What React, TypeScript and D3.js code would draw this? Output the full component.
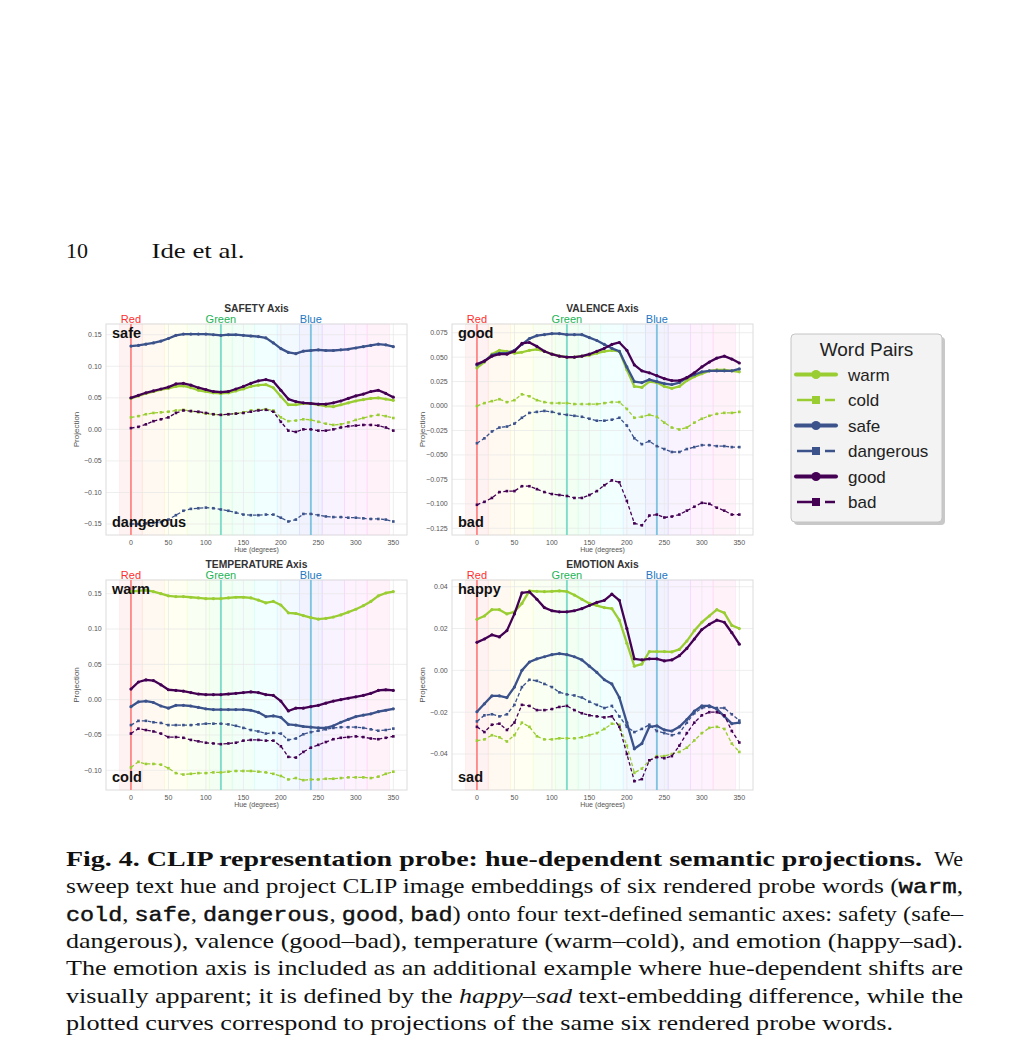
import React from 'react';
import * as d3 from 'd3';

// ---------- data ----------
const hues = [0, 10, 20, 30, 40, 50, 60, 70, 80, 90, 100, 110, 120, 130, 140, 150, 160, 170, 180, 190, 200, 210, 220, 230, 240, 250, 260, 270, 280, 290, 300, 310, 320, 330, 340, 350];
const bandHues = [0, 30, 60, 90, 120, 150, 180, 210, 240, 270, 300, 330];
const xTicks = [0, 50, 100, 150, 200, 250, 300, 350];
const refHues = [0, 120, 240];
const refNames = ['Red', 'Green', 'Blue'];
const wordNames = ['warm', 'cold', 'safe', 'dangerous', 'good', 'bad'];

const safetyWarm = [0.049, 0.053, 0.057, 0.060, 0.063, 0.065, 0.068, 0.069, 0.066, 0.062, 0.060, 0.058, 0.057, 0.058, 0.061, 0.064, 0.068, 0.070, 0.071, 0.066, 0.052, 0.039, 0.039, 0.041, 0.041, 0.039, 0.037, 0.036, 0.039, 0.042, 0.045, 0.047, 0.049, 0.050, 0.048, 0.046];
const safetyCold = [0.019, 0.021, 0.024, 0.026, 0.027, 0.028, 0.030, 0.031, 0.029, 0.027, 0.025, 0.024, 0.023, 0.024, 0.025, 0.027, 0.030, 0.031, 0.032, 0.030, 0.019, 0.013, 0.014, 0.016, 0.015, 0.012, 0.009, 0.007, 0.008, 0.011, 0.015, 0.018, 0.021, 0.023, 0.021, 0.018];
const safetySafe = [0.132, 0.133, 0.135, 0.137, 0.140, 0.144, 0.149, 0.151, 0.151, 0.151, 0.151, 0.150, 0.149, 0.150, 0.150, 0.149, 0.148, 0.147, 0.145, 0.137, 0.128, 0.122, 0.120, 0.124, 0.125, 0.126, 0.125, 0.125, 0.126, 0.127, 0.129, 0.131, 0.133, 0.135, 0.134, 0.131];
const safetyDangerous = [-0.150, -0.150, -0.149, -0.148, -0.147, -0.143, -0.136, -0.129, -0.126, -0.125, -0.124, -0.125, -0.127, -0.129, -0.132, -0.135, -0.136, -0.136, -0.135, -0.135, -0.140, -0.146, -0.143, -0.134, -0.134, -0.136, -0.138, -0.139, -0.139, -0.140, -0.140, -0.141, -0.142, -0.142, -0.143, -0.146];
const safetyGood = [0.050, 0.054, 0.058, 0.061, 0.064, 0.067, 0.072, 0.073, 0.070, 0.066, 0.063, 0.060, 0.059, 0.060, 0.064, 0.068, 0.073, 0.077, 0.079, 0.076, 0.062, 0.048, 0.044, 0.042, 0.041, 0.040, 0.040, 0.042, 0.045, 0.049, 0.053, 0.056, 0.060, 0.062, 0.057, 0.051];
const safetyBad = [0.002, 0.004, 0.008, 0.013, 0.016, 0.019, 0.026, 0.030, 0.029, 0.028, 0.026, 0.024, 0.023, 0.024, 0.025, 0.026, 0.028, 0.030, 0.031, 0.028, 0.012, -0.002, -0.004, 0.000, 0.000, -0.002, -0.002, 0.000, 0.003, 0.005, 0.006, 0.007, 0.007, 0.006, 0.003, -0.002];

const valenceWarm = [0.039, 0.045, 0.053, 0.057, 0.056, 0.054, 0.055, 0.057, 0.058, 0.056, 0.053, 0.051, 0.050, 0.050, 0.051, 0.052, 0.054, 0.056, 0.057, 0.056, 0.037, 0.020, 0.019, 0.025, 0.024, 0.020, 0.018, 0.020, 0.026, 0.030, 0.033, 0.036, 0.037, 0.037, 0.036, 0.035];
const valenceCold = [0.000, 0.003, 0.005, 0.007, 0.004, 0.006, 0.012, 0.010, 0.006, 0.004, 0.003, 0.003, 0.003, 0.002, 0.002, 0.002, 0.002, 0.003, 0.004, 0.004, -0.003, -0.012, -0.011, -0.009, -0.011, -0.017, -0.022, -0.024, -0.022, -0.017, -0.013, -0.010, -0.008, -0.007, -0.007, -0.006];
const valenceSafe = [0.042, 0.046, 0.052, 0.054, 0.054, 0.057, 0.063, 0.069, 0.072, 0.073, 0.074, 0.074, 0.073, 0.073, 0.073, 0.070, 0.067, 0.063, 0.059, 0.056, 0.040, 0.025, 0.024, 0.027, 0.025, 0.023, 0.022, 0.024, 0.029, 0.032, 0.035, 0.036, 0.036, 0.036, 0.036, 0.038];
const valenceDangerous = [-0.038, -0.033, -0.026, -0.022, -0.021, -0.018, -0.012, -0.007, -0.006, -0.005, -0.006, -0.008, -0.009, -0.010, -0.011, -0.013, -0.015, -0.015, -0.014, -0.012, -0.020, -0.033, -0.039, -0.036, -0.041, -0.044, -0.047, -0.047, -0.044, -0.042, -0.040, -0.040, -0.041, -0.041, -0.042, -0.042];
const valenceGood = [0.043, 0.046, 0.051, 0.053, 0.053, 0.056, 0.064, 0.065, 0.061, 0.056, 0.053, 0.051, 0.050, 0.050, 0.051, 0.053, 0.056, 0.059, 0.063, 0.065, 0.057, 0.042, 0.036, 0.034, 0.031, 0.028, 0.026, 0.026, 0.029, 0.034, 0.040, 0.045, 0.049, 0.051, 0.048, 0.044];
const valenceBad = [-0.101, -0.098, -0.094, -0.088, -0.087, -0.087, -0.082, -0.082, -0.085, -0.088, -0.090, -0.091, -0.092, -0.094, -0.094, -0.091, -0.087, -0.081, -0.076, -0.078, -0.097, -0.120, -0.122, -0.112, -0.111, -0.114, -0.113, -0.111, -0.107, -0.103, -0.099, -0.100, -0.104, -0.107, -0.111, -0.111];

const tempWarm = [0.153, 0.154, 0.155, 0.153, 0.150, 0.147, 0.146, 0.146, 0.145, 0.144, 0.143, 0.143, 0.143, 0.144, 0.145, 0.145, 0.144, 0.141, 0.137, 0.139, 0.134, 0.123, 0.122, 0.119, 0.116, 0.114, 0.115, 0.117, 0.120, 0.124, 0.128, 0.133, 0.139, 0.147, 0.151, 0.153];
const tempCold = [-0.096, -0.088, -0.091, -0.091, -0.092, -0.097, -0.104, -0.106, -0.105, -0.104, -0.104, -0.103, -0.103, -0.102, -0.101, -0.101, -0.101, -0.102, -0.103, -0.105, -0.108, -0.113, -0.111, -0.114, -0.113, -0.113, -0.112, -0.112, -0.111, -0.110, -0.110, -0.110, -0.111, -0.109, -0.105, -0.102];
const tempSafe = [-0.010, -0.003, -0.002, -0.004, -0.009, -0.012, -0.008, -0.008, -0.009, -0.011, -0.013, -0.014, -0.014, -0.014, -0.014, -0.014, -0.015, -0.018, -0.024, -0.023, -0.025, -0.035, -0.036, -0.038, -0.039, -0.040, -0.040, -0.037, -0.032, -0.028, -0.024, -0.022, -0.020, -0.017, -0.015, -0.013];
const tempDangerous = [-0.036, -0.030, -0.030, -0.032, -0.033, -0.036, -0.036, -0.036, -0.036, -0.035, -0.034, -0.034, -0.034, -0.035, -0.037, -0.040, -0.043, -0.045, -0.048, -0.047, -0.048, -0.057, -0.055, -0.049, -0.046, -0.044, -0.042, -0.040, -0.039, -0.039, -0.039, -0.040, -0.042, -0.044, -0.043, -0.041];
const tempGood = [0.015, 0.025, 0.028, 0.027, 0.021, 0.014, 0.013, 0.012, 0.010, 0.008, 0.007, 0.007, 0.007, 0.008, 0.009, 0.010, 0.011, 0.010, 0.007, 0.006, -0.002, -0.016, -0.012, -0.012, -0.010, -0.008, -0.005, -0.002, 0.000, 0.002, 0.004, 0.006, 0.009, 0.013, 0.014, 0.013];
const tempBad = [-0.048, -0.041, -0.043, -0.045, -0.048, -0.053, -0.053, -0.054, -0.057, -0.059, -0.061, -0.062, -0.063, -0.062, -0.061, -0.058, -0.057, -0.057, -0.058, -0.058, -0.066, -0.081, -0.082, -0.074, -0.068, -0.064, -0.060, -0.056, -0.054, -0.053, -0.052, -0.053, -0.055, -0.056, -0.054, -0.052];

const emoWarm = [0.0244, 0.026, 0.029, 0.029, 0.027, 0.028, 0.032, 0.038, 0.0378, 0.0376, 0.0378, 0.038, 0.0377, 0.036, 0.034, 0.032, 0.031, 0.030, 0.0295, 0.024, 0.013, 0.002, 0.003, 0.009, 0.009, 0.009, 0.0088, 0.010, 0.014, 0.019, 0.023, 0.026, 0.029, 0.0275, 0.0215, 0.020];
const emoCold = [-0.0336, -0.033, -0.031, -0.032, -0.034, -0.031, -0.025, -0.027, -0.0315, -0.033, -0.033, -0.0325, -0.0325, -0.0325, -0.032, -0.031, -0.030, -0.028, -0.0255, -0.026, -0.036, -0.049, -0.047, -0.043, -0.041, -0.041, -0.040, -0.039, -0.037, -0.0335, -0.030, -0.0275, -0.027, -0.028, -0.035, -0.039];
const emoSafe = [-0.0198, -0.016, -0.0122, -0.0122, -0.013, -0.008, 0.000, 0.004, 0.0055, 0.0065, 0.0075, 0.008, 0.0075, 0.0065, 0.005, 0.002, -0.001, -0.0045, -0.0065, -0.013, -0.025, -0.0375, -0.035, -0.027, -0.0265, -0.0285, -0.029, -0.027, -0.0235, -0.0195, -0.017, -0.017, -0.0185, -0.022, -0.0255, -0.025];
const emoDangerous = [-0.0244, -0.0215, -0.021, -0.022, -0.021, -0.0165, -0.008, -0.0045, -0.005, -0.0065, -0.008, -0.0105, -0.0115, -0.012, -0.013, -0.015, -0.0165, -0.018, -0.017, -0.022, -0.027, -0.0295, -0.028, -0.026, -0.029, -0.030, -0.031, -0.030, -0.025, -0.0205, -0.018, -0.0175, -0.018, -0.018, -0.021, -0.024];
const emoGood = [0.0134, 0.015, 0.017, 0.016, 0.019, 0.027, 0.037, 0.0375, 0.034, 0.030, 0.0285, 0.028, 0.028, 0.0285, 0.0295, 0.031, 0.0325, 0.0335, 0.0365, 0.0335, 0.020, 0.0055, 0.005, 0.0055, 0.0055, 0.0045, 0.005, 0.007, 0.0105, 0.015, 0.0195, 0.022, 0.024, 0.023, 0.018, 0.0125];
const emoBad = [-0.027, -0.0295, -0.026, -0.0255, -0.0285, -0.025, -0.0165, -0.017, -0.019, -0.019, -0.0185, -0.0175, -0.017, -0.019, -0.0205, -0.0215, -0.022, -0.0225, -0.022, -0.027, -0.040, -0.053, -0.052, -0.043, -0.0415, -0.042, -0.041, -0.036, -0.030, -0.025, -0.0215, -0.020, -0.020, -0.0215, -0.029, -0.0345];

const safetyTicks = [-0.15, -0.1, -0.05, 0, 0.05, 0.1, 0.15];
const valenceTicks = [-0.125, -0.1, -0.075, -0.05, -0.025, 0, 0.025, 0.05, 0.075];
const tempTicks = [-0.1, -0.05, 0, 0.05, 0.1, 0.15];
const emoTicks = [-0.04, -0.02, 0, 0.02, 0.04];

// ---------- styles ----------
const wordColors = ['#9acd32', '#9acd32', '#3b528b', '#3b528b', '#440154', '#440154'];
const wordDashed = [false, true, false, true, false, true];
const refColors = ['#ff8a8a', '#7fdccb', '#7fc3e0'];
const refTextColors = ['#ff2e2e', '#22b455', '#2377c4'];
const SANS = '"Liberation Sans", Arial, sans-serif';
const SERIF = '"Liberation Serif", "Times New Roman", serif';
const MONO = '"Liberation Mono", "Courier New", monospace';

const X_DOMAIN: [number, number] = [-33.25, 368.25];

type PanelProps = {
  left: number; top: number; width: number; height: number;
  title: string; yDomain: [number, number]; yTicks: number[]; yFmt: string;
  topWord: string; bottomWord: string; series: number[][];
};

function Panel(p: PanelProps) {
  const x = d3.scaleLinear().domain(X_DOMAIN).range([p.left, p.left + p.width]);
  const y = d3.scaleLinear().domain(p.yDomain).range([p.top + p.height, p.top]);
  const fmt = d3.format(p.yFmt);
  const line = d3.line<number>().x((_, i) => x(hues[i])).y((d) => y(d));
  const cx = p.left + p.width / 2;
  const bottom = p.top + p.height;
  return (
    <g>
      <rect x={p.left} y={p.top} width={p.width} height={p.height} fill="#ffffff" />
      {bandHues.map((h) => (
        <rect key={h} x={x(h - 15)} y={p.top} width={x(h + 15) - x(h - 15)} height={p.height}
          fill={d3.hsl(h, 1, 0.5).formatHex()} fillOpacity={0.05}
          stroke={d3.hsl(h, 1, 0.5).formatHex()} strokeOpacity={0.09} strokeWidth={0.6} />
      ))}
      {p.yTicks.map((t) => (
        <line key={'gy' + t} x1={p.left} x2={p.left + p.width} y1={y(t)} y2={y(t)} stroke="#e6e6e6" strokeWidth={0.7} />
      ))}
      {xTicks.map((t) => (
        <line key={'gx' + t} x1={x(t)} x2={x(t)} y1={p.top} y2={bottom} stroke="#e6e6e6" strokeWidth={0.7} />
      ))}
      <rect x={p.left} y={p.top} width={p.width} height={p.height} fill="none" stroke="#dcdcdc" strokeWidth={1} />
      {refHues.map((h, i) => (
        <line key={'r' + h} x1={x(h)} x2={x(h)} y1={p.top} y2={bottom} stroke={refColors[i]} strokeWidth={1.9} />
      ))}
      {p.series.map((vals, si) => {
        const c = wordColors[si];
        const dashed = wordDashed[si];
        return (
          <g key={'s' + si}>
            <path d={line(vals) || ''} fill="none" stroke={c} strokeWidth={dashed ? 1.3 : 2.3}
              strokeDasharray={dashed ? '3.6,2.4' : undefined} strokeLinejoin="round" />
            {vals.map((v, i) => dashed ? (
              <rect key={i} x={x(hues[i]) - 1.3} y={y(v) - 1.3} width={2.6} height={2.6} fill={c} />
            ) : (
              <circle key={i} cx={x(hues[i])} cy={y(v)} r={1.6} fill={c} />
            ))}
          </g>
        );
      })}
      {p.yTicks.map((t) => (
        <text key={'ty' + t} x={p.left - 4.3} y={y(t) + 2.4} textAnchor="end" fontFamily={SANS} fontSize={7} fill="#555">{fmt(t)}</text>
      ))}
      {xTicks.map((t) => (
        <text key={'tx' + t} x={x(t)} y={bottom + 10} textAnchor="middle" fontFamily={SANS} fontSize={7} fill="#555">{t}</text>
      ))}
      <text x={cx} y={bottom + 17} textAnchor="middle" fontFamily={SANS} fontSize={7} fill="#555">Hue (degrees)</text>
      <text transform={`translate(${p.left - 27},${p.top + p.height / 2}) rotate(-90)`} textAnchor="middle" fontFamily={SANS} fontSize={8} fill="#555">Projection</text>
      <text x={cx} y={p.top - 12.3} textAnchor="middle" fontFamily={SANS} fontWeight="bold" fontSize={10.3} fill="#333">{p.title}</text>
      {refHues.map((h, i) => (
        <text key={'rl' + h} x={x(h)} y={p.top - 1.5} textAnchor="middle" fontFamily={SANS} fontSize={11} fill={refTextColors[i]}>{refNames[i]}</text>
      ))}
      <text x={p.left + 6} y={p.top + 13.5} fontFamily={SANS} fontWeight="bold" fontSize={14.5} fill="#111">{p.topWord}</text>
      <text x={p.left + 6} y={bottom - 7.7} fontFamily={SANS} fontWeight="bold" fontSize={14.5} fill="#111">{p.bottomWord}</text>
    </g>
  );
}

function Legend() {
  const lx = 791, ly = 334, lw = 151, lh = 188;
  const rowY = d3.scaleLinear().domain([0, 5]).range([380.5, 508]);
  return (
    <g>
      <rect x={lx + 3} y={ly + 3} width={lw} height={lh} rx={4} fill="#9a9a9a" fillOpacity={0.55} />
      <rect x={lx} y={ly} width={lw} height={lh} rx={4} fill="#f3f3f3" stroke="#c4c4c4" strokeWidth={1} />
      <text x={lx + lw / 2} y={356} textAnchor="middle" fontFamily={SANS} fontSize={19} fill="#222">Word Pairs</text>
      {wordNames.map((w, i) => {
        const yy = rowY(i);
        const c = wordColors[i];
        const hy = yy - 6;
        return (
          <g key={w}>
            {wordDashed[i] ? (
              <>
                <line x1={797} x2={835} y1={hy} y2={hy} stroke={c} strokeWidth={2.5} strokeDasharray="16,12" />
                <rect x={812} y={hy - 4} width={8} height={8} fill={c} />
              </>
            ) : (
              <>
                <line x1={796} x2={836} y1={hy} y2={hy} stroke={c} strokeWidth={4} strokeLinecap="round" />
                <circle cx={816} cy={hy} r={4.6} fill={c} />
              </>
            )}
            <text x={848} y={yy} fontFamily={SANS} fontSize={17} fill="#222">{w}</text>
          </g>
        );
      })}
    </g>
  );
}

type Seg = { t: string; f: 'r' | 'b' | 'm' | 'i' };
const captionLines: Seg[][] = [
  [{ t: 'sweep text hue and project CLIP image embeddings of six rendered probe words (', f: 'r' }, { t: 'warm', f: 'm' }, { t: ',', f: 'r' }],
  [{ t: 'cold', f: 'm' }, { t: ', ', f: 'r' }, { t: 'safe', f: 'm' }, { t: ', ', f: 'r' }, { t: 'dangerous', f: 'm' }, { t: ', ', f: 'r' }, { t: 'good', f: 'm' }, { t: ', ', f: 'r' }, { t: 'bad', f: 'm' }, { t: ') onto four text-defined semantic axes: safety (safe–', f: 'r' }],
  [{ t: 'dangerous), valence (good–bad), temperature (warm–cold), and emotion (happy–sad).', f: 'r' }],
  [{ t: 'The emotion axis is included as an additional example where hue-dependent shifts are', f: 'r' }],
  [{ t: 'visually apparent; it is defined by the ', f: 'r' }, { t: 'happy–sad', f: 'i' }, { t: ' text-embedding difference, while the', f: 'r' }],
];
const captionLast = 'plotted curves correspond to projections of the same six rendered probe words.';

function segStyle(f: string) {
  if (f === 'm') return { fontFamily: MONO, fontSize: 21, stroke: '#111', strokeWidth: 0.45 };
  if (f === 'i') return { fontFamily: SERIF, fontStyle: 'italic' as const };
  if (f === 'b') return { fontFamily: SERIF, fontWeight: 'bold' as const };
  return { fontFamily: SERIF };
}

function Caption() {
  const left = 66, right = 963, lh = 27.35, base = 866;
  return (
    <g fontFamily={SERIF} fontSize={22} fill="#111">
      <text x={left} y={base} fontWeight="bold" textLength={856} lengthAdjust="spacingAndGlyphs">Fig. 4. CLIP representation probe: hue-dependent semantic projections.</text>
      <text x={right} y={base} textAnchor="end">We</text>
      {captionLines.map((segs, i) => (
        <text key={i} x={left} y={base + lh * (i + 1)} textLength={right - left} lengthAdjust="spacingAndGlyphs">
          {segs.map((s, j) => (
            <tspan key={j} {...segStyle(s.f)}>{s.t}</tspan>
          ))}
        </text>
      ))}
      <text x={left} y={base + lh * 6} textLength={893 - left} lengthAdjust="spacingAndGlyphs">{captionLast}</text>
    </g>
  );
}

export default function App() {
  const W = 301, H = 211;
  return (
    <svg width={1030} height={1059} style={{ position: 'absolute', left: 0, top: 0, background: '#fff' }}>
      <rect x={0} y={0} width={1030} height={1059} fill="#fff" />
      <text x={66} y={258} fontFamily={SERIF} fontSize={22} fill="#111">10</text>
      <text x={151.5} y={258} fontFamily={SERIF} fontSize={22} fill="#111" textLength={93} lengthAdjust="spacingAndGlyphs">Ide et al.</text>
      <Panel left={106} top={324} width={W} height={H} title="SAFETY Axis" yDomain={[-0.1674, 0.167]} yTicks={safetyTicks} yFmt=".2f"
        topWord="safe" bottomWord="dangerous" series={[safetyWarm, safetyCold, safetySafe, safetyDangerous, safetyGood, safetyBad]} />
      <Panel left={452} top={324} width={W} height={H} title="VALENCE Axis" yDomain={[-0.1319, 0.0839]} yTicks={valenceTicks} yFmt=".3f"
        topWord="good" bottomWord="bad" series={[valenceWarm, valenceCold, valenceSafe, valenceDangerous, valenceGood, valenceBad]} />
      <Panel left={106} top={580} width={W} height={210} title="TEMPERATURE Axis" yDomain={[-0.1279, 0.1694]} yTicks={tempTicks} yFmt=".2f"
        topWord="warm" bottomWord="cold" series={[tempWarm, tempCold, tempSafe, tempDangerous, tempGood, tempBad]} />
      <Panel left={452} top={580} width={W} height={210} title="EMOTION Axis" yDomain={[-0.0572, 0.0432]} yTicks={emoTicks} yFmt=".2f"
        topWord="happy" bottomWord="sad" series={[emoWarm, emoCold, emoSafe, emoDangerous, emoGood, emoBad]} />
      <Legend />
      <Caption />
    </svg>
  );
}
